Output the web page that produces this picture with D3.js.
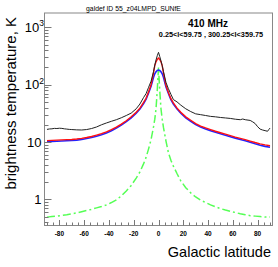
<!DOCTYPE html>
<html>
<head>
<meta charset="utf-8">
<script src="https://cdn.jsdelivr.net/npm/d3@7"></script>
<style>
	body { margin: 0; background: #fff; }
	text { font-family: 'Liberation Sans', Arial, sans-serif; }
</style>
</head>
<body>
<div id="chart"></div>
<script>
// latitude grid shared by the model curves
var lat = [-90, -86, -82, -78, -74, -70, -66, -62, -58, -54, -50, -46, -42, -38, -34, -30, -26, -22, -18, -15, -12, -10, -8, -6, -4, -3, -2, -1, 0,
	1, 2, 3, 4, 6, 8, 10, 12, 15, 18, 22, 26, 30, 34, 38, 42, 46, 50, 54, 58, 62, 66, 70, 74, 78, 82, 86, 90];

var redVals = [10.6, 10.7, 10.8, 10.9, 11.0, 11.1, 11.3, 11.6, 12.0, 12.5, 13.2, 14.0, 15.0, 16.4, 18.2, 20.5, 23.5, 27.5, 33, 39, 49, 58, 75, 100, 160, 215, 250, 275, 292,
	275, 250, 215, 160, 98, 73, 57, 48, 39, 33, 27.5, 24, 21, 19, 17.6, 16.5, 15.4, 14.5, 13.7, 12.9, 12.2, 11.6, 11.0, 10.4, 9.8, 9.3, 8.9, 8.6];

var blueVals = [10.1, 10.2, 10.3, 10.4, 10.5, 10.6, 10.8, 11.1, 11.5, 12.0, 12.6, 13.4, 14.4, 15.7, 17.5, 19.7, 22.6, 26.4, 31.7, 37.5, 47, 56, 72, 94, 135, 155, 168, 177, 180,
	177, 168, 155, 135, 92, 70, 55, 46, 37.5, 31.7, 26.4, 23, 20.2, 18.2, 16.9, 15.8, 14.8, 13.9, 13.1, 12.4, 11.7, 11.1, 10.5, 9.9, 9.3, 8.8, 8.4, 8.1];

var greenVals = [0.49, 0.50, 0.51, 0.525, 0.54, 0.56, 0.58, 0.61, 0.64, 0.67, 0.71, 0.75, 0.80, 0.88, 0.98, 1.15, 1.4, 1.75, 2.35, 3.0, 4.2, 5.4, 7.6, 11, 18.5, 25, 38, 80, 200,
	80, 38, 25, 18, 10.5, 6.5, 4.8, 3.8, 2.8, 2.1, 1.6, 1.3, 1.1, 0.97, 0.88, 0.8, 0.74, 0.69, 0.65, 0.62, 0.59, 0.56, 0.54, 0.52, 0.51, 0.50, 0.49, 0.49];

// observed survey profile
var latBlack = [-90, -88, -86, -84, -82, -80, -78, -76, -74, -72, -70, -66, -62, -58, -54, -50, -46, -42, -38, -34, -30, -26, -22, -18, -15, -12, -10, -8, -6, -4, -3, -2, -1, 0,
	1, 2, 3, 4, 6, 8, 10, 12, 15, 18, 22, 26, 30, 34, 38, 42, 46, 50, 54, 58, 62, 66, 68, 70, 74, 76, 78, 80, 82, 84, 86, 88, 89, 90];
var blackVals = [16.6, 16.9, 17.0, 17.3, 17.2, 17.4, 17.3, 17.0, 16.8, 16.6, 16.5, 16.3, 16.2, 16.5, 17.2, 18.3, 20.0, 21.5, 23.0, 24.5, 26.5, 29, 32, 38, 46, 60, 70, 90, 115, 170, 220, 270, 320, 367,
	310, 260, 215, 170, 110, 85, 68, 55, 50, 44, 38, 34, 31, 30, 29, 28, 27.5, 26.8, 26.3, 25.8, 25.0, 24.5, 25.2, 24.5, 23.8, 22.5, 21.0, 18.5, 16.8, 16.2, 15.8, 15.4, 16.5, 17.5];

var xTicks = [-80, -60, -40, -20, 0, 20, 40, 60, 80];
var yTicks = [1, 10, 100, 1000];

var width = 278;
var height = 267;
var frame = { left: 44.5, right: 272.5, top: 13, bottom: 225.5 };

var svg = d3.select('#chart')
	.append('svg')
	.attr('width', width)
	.attr('height', height);

svg.append('rect')
	.attr('width', width)
	.attr('height', height)
	.attr('fill', '#fff');

var xScale = d3.scaleLinear()
	.domain([-92, 92])
	.range([frame.left, frame.right]);

var yScale = d3.scaleLog()
	.domain([0.35, 1780])
	.range([frame.bottom, frame.top]);

var plot = svg.append('g');

// clip to frame
svg.append('clipPath').attr('id', 'clip')
	.append('rect')
	.attr('x', frame.left)
	.attr('y', frame.top)
	.attr('width', frame.right - frame.left)
	.attr('height', frame.bottom - frame.top);

var lineGroup = plot.append('g').attr('clip-path', 'url(#clip)');

var line = function(xs) {
	return d3.line()
		.x(function(d, i) { return xScale(xs[i]); })
		.y(function(d) { return yScale(d); });
};

lineGroup.append('path')
	.attr('d', line(lat)(greenVals))
	.attr('fill', 'none')
	.attr('stroke', '#55ff55')
	.attr('stroke-width', 1.5)
	.attr('stroke-dasharray', '8,3,2,3');

lineGroup.append('path')
	.attr('d', line(lat)(blueVals))
	.attr('fill', 'none')
	.attr('stroke', '#2222ff')
	.attr('stroke-width', 1.6);

lineGroup.append('path')
	.attr('d', line(lat)(redVals))
	.attr('fill', 'none')
	.attr('stroke', '#ff1111')
	.attr('stroke-width', 1.4);

lineGroup.append('path')
	.attr('d', line(latBlack)(blackVals))
	.attr('fill', 'none')
	.attr('stroke', '#222')
	.attr('stroke-width', 1);

// frame
plot.append('rect')
	.attr('x', frame.left)
	.attr('y', frame.top)
	.attr('width', frame.right - frame.left)
	.attr('height', frame.bottom - frame.top)
	.attr('fill', 'none')
	.attr('stroke', '#888')
	.attr('stroke-width', 1);

// x ticks: major every 20, minor every 5
var xMinor = d3.range(-90, 91, 5);
plot.append('g').selectAll('line')
	.data(xMinor)
	.enter().append('line')
	.attr('x1', function(d) { return Math.round(xScale(d)) + 0.5; })
	.attr('x2', function(d) { return Math.round(xScale(d)) + 0.5; })
	.attr('y1', frame.bottom)
	.attr('y2', function(d) { return frame.bottom - (d % 20 === 0 ? 5.5 : 3); })
	.attr('stroke', '#777')
	.attr('stroke-width', 1);

plot.append('g').selectAll('text')
	.data(xTicks)
	.enter().append('text')
	.attr('x', function(d) { return xScale(d); })
	.attr('y', 236)
	.attr('text-anchor', 'middle')
	.style('font-size', '6.5px')
	.style('font-weight', 'bold')
	.text(function(d) { return d; });

// y ticks: log decades with minor 2..9
var yMinor = [];
[0.1, 1, 10, 100].forEach(function(dec) {
	for (var k = 1; k <= 9; k += 1) {
		var v = dec * k;
		if (v >= 0.35 && v <= 1000) yMinor.push(v);
	}
});
yMinor.push(1000);

plot.append('g').selectAll('line')
	.data(yMinor)
	.enter().append('line')
	.attr('x1', frame.left)
	.attr('x2', function(d) { return frame.left + (yTicks.indexOf(d) >= 0 ? 7 : 4); })
	.attr('y1', function(d) { return Math.round(yScale(d)) + 0.5; })
	.attr('y2', function(d) { return Math.round(yScale(d)) + 0.5; })
	.attr('stroke', '#777')
	.attr('stroke-width', 1);

var yLabels = plot.append('g').selectAll('text')
	.data(yTicks)
	.enter().append('text')
	.attr('x', function(d) { return d >= 100 ? 44 : 41.5; })
	.attr('y', function(d) { return yScale(d) + 4.5; })
	.attr('text-anchor', 'end')
	.style('font-size', '13px');

yLabels.each(function(d) {
	var t = d3.select(this);
	if (d >= 100) {
		t.append('tspan').text('10');
		t.append('tspan')
			.attr('dy', -5.5)
			.style('font-size', '8.5px')
			.text(Math.round(Math.log10(d)));
	} else {
		t.text(d);
	}
});

// titles
svg.append('text')
	.attr('x', 133.5)
	.attr('y', 10.5)
	.attr('text-anchor', 'middle')
	.style('font-size', '6.8px')
	.text('galdef ID 55_z04LMPD_SUNfE');

svg.append('text')
	.attr('x', 208)
	.attr('y', 27)
	.attr('text-anchor', 'middle')
	.style('font-size', '10px')
	.style('font-weight', 'bold')
	.text('410 MHz');

svg.append('text')
	.attr('x', 211)
	.attr('y', 37)
	.attr('text-anchor', 'middle')
	.style('font-size', '7.3px')
	.style('font-weight', 'bold')
	.text('0.25<l<59.75 , 300.25<l<359.75');

svg.append('text')
	.attr('x', 271)
	.attr('y', 257)
	.attr('text-anchor', 'end')
	.style('font-size', '14.5px')
	.text('Galactic latitude');

svg.append('text')
	.attr('transform', 'translate(16, 17) rotate(-90)')
	.attr('text-anchor', 'end')
	.style('font-size', '15px')
	.text('brightness temperature, K');
</script>
</body>
</html>
